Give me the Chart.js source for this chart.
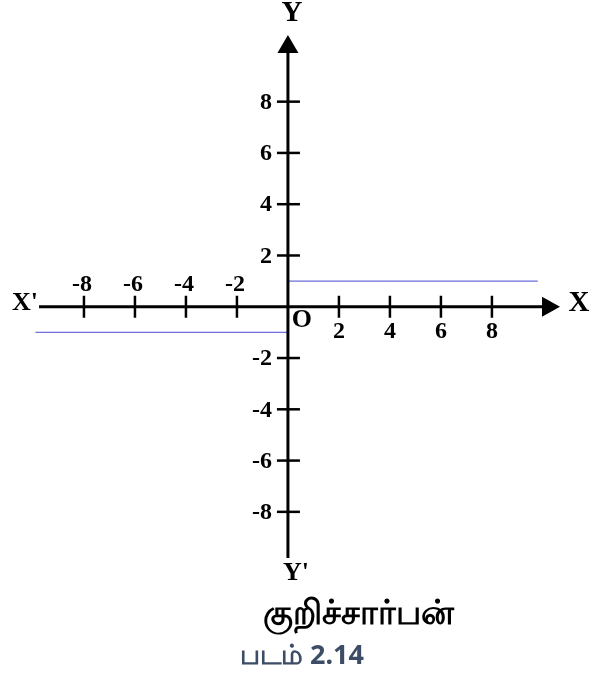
<!DOCTYPE html>
<html>
<head>
<meta charset="utf-8">
<script src="https://cdn.jsdelivr.net/npm/chart.js@4"></script>
<style>
  html, body { margin: 0; padding: 0; background: #ffffff; }
  #wrap { position: relative; width: 603px; height: 675px; }
</style>
</head>
<body>
<div id="wrap"><canvas id="c" width="603" height="675"></canvas></div>
<script>
// ---- data ----
const xTickValues = [-8, -6, -4, -2, 2, 4, 6, 8];
const yTickValues = [-8, -6, -4, -2, 2, 4, 6, 8];
const negLineX = [-9.9, 0];
const negLineY = [-1, -1];
const posLineX = [0, 9.8];
const posLineY = [1, 1];
const xRange = [-9.92, 10.67];
const yRange = [-9.8, 10.6];
const axisLabels = { xPos: "X", xNeg: "X'", yPos: "Y", yNeg: "Y'", origin: "O" };
const titleText = "குறிச்சார்பன்";
const captionText = "படம் 2.14";

function toPoints(xs, ys) { return xs.map((x, i) => ({ x: x, y: ys[i] })); }

const axesPlugin = {
  id: 'crossAxes',
  afterDatasetsDraw(chart) {
    const ctx = chart.ctx;
    const xs = chart.scales.x, ys = chart.scales.y;
    const x0 = xs.getPixelForValue(0), y0 = ys.getPixelForValue(0);
    const xL = xs.getPixelForValue(xRange[0]), xR = xs.getPixelForValue(xRange[1]);
    const yT = ys.getPixelForValue(yRange[1]), yB = ys.getPixelForValue(yRange[0]);
    ctx.save();
    ctx.strokeStyle = '#000';
    ctx.fillStyle = '#000';
    ctx.lineWidth = 3;
    // x axis
    ctx.beginPath(); ctx.moveTo(xL + 4, y0); ctx.lineTo(xR - 16, y0); ctx.stroke();
    ctx.beginPath(); ctx.moveTo(xR, y0); ctx.lineTo(xR - 18, y0 - 10); ctx.lineTo(xR - 18, y0 + 10); ctx.closePath(); ctx.fill();
    // y axis
    ctx.beginPath(); ctx.moveTo(x0, yB); ctx.lineTo(x0, yT + 16); ctx.stroke();
    ctx.beginPath(); ctx.moveTo(x0, yT); ctx.lineTo(x0 - 10.5, yT + 18); ctx.lineTo(x0 + 10.5, yT + 18); ctx.closePath(); ctx.fill();
    // ticks
    ctx.lineWidth = 2.5;
    ctx.font = "bold 24px 'Liberation Serif', serif";
    ctx.textAlign = 'center';
    ctx.textBaseline = 'middle';
    xTickValues.forEach(v => {
      const px = xs.getPixelForValue(v);
      ctx.beginPath(); ctx.moveTo(px, y0 - 11); ctx.lineTo(px, y0 + 11); ctx.stroke();
      if (v < 0) ctx.fillText(String(v), px - 2, y0 - 22);
      else ctx.fillText(String(v), px, y0 + 25);
    });
    ctx.textAlign = 'right';
    yTickValues.forEach(v => {
      const py = ys.getPixelForValue(v);
      ctx.beginPath(); ctx.moveTo(x0 - 11, py); ctx.lineTo(x0 + 12, py); ctx.stroke();
      ctx.fillText(String(v), x0 - 16, py + 1);
    });
    // axis letters
    ctx.textAlign = 'center';
    ctx.font = "bold 29px 'Liberation Serif', serif";
    ctx.fillText(axisLabels.xPos, xR + 19, y0 - 3);
    ctx.fillText(axisLabels.yPos, x0 + 4, yT - 21);
    ctx.font = "bold 26px 'Liberation Serif', serif";
    ctx.fillText(axisLabels.xNeg, xL - 10, y0 - 3);
    ctx.fillText(axisLabels.yNeg, x0 + 8, yB + 15);
    ctx.font = "bold 26px 'Liberation Serif', serif";
    ctx.fillText(axisLabels.origin, x0 + 14, y0 + 14);
    // titles
    ctx.font = "bold 34px 'Noto Sans', sans-serif";
    ctx.fillText(titleText, 358, 614);
    ctx.fillStyle = '#3d4d66';
    ctx.font = "bold 27px 'Noto Sans', sans-serif";
    ctx.fillText(captionText, 302, 656);
    ctx.restore();
  }
};

new Chart(document.getElementById('c'), {
  type: 'scatter',
  data: {
    datasets: [
      { data: toPoints(negLineX, negLineY), showLine: true, borderColor: '#6e6edc', borderWidth: 1.3, pointRadius: 0, fill: false },
      { data: toPoints(posLineX, posLineY), showLine: true, borderColor: '#6e6edc', borderWidth: 1.3, pointRadius: 0, fill: false }
    ]
  },
  options: {
    responsive: false,
    animation: false,
    layout: { padding: { left: 35, right: 43, top: 35, bottom: 117 } },
    plugins: { legend: { display: false }, tooltip: { enabled: false }, title: { display: false } },
    scales: {
      x: { type: 'linear', min: xRange[0], max: xRange[1], display: false },
      y: { type: 'linear', min: yRange[0], max: yRange[1], display: false }
    }
  },
  plugins: [axesPlugin]
});
</script>
</body>
</html>
